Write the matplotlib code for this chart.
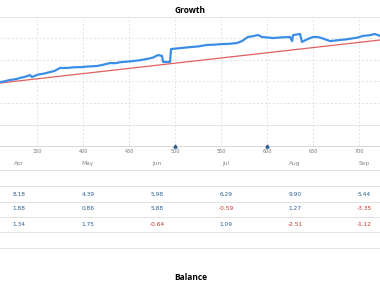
import matplotlib
matplotlib.use('Agg')
from matplotlib import pyplot as plt

# Growth curve (trade number vs growth %)
trades = [309.8, 315.0, 320.7, 327.0, 333.0, 338.0, 342.4, 344.6, 348.0, 352.0, 358.0,
          364.1, 369.0, 375.0, 382.6, 390.0, 398.0, 406.0, 415.2, 422.0, 429.3,
          435.0, 441.0, 447.0, 454.3, 462.0, 469.6, 476.0, 481.5, 485.9, 487.0,
          494.6, 495.7, 505.0, 516.3, 525.0, 534.8, 542.0, 550.0, 558.0, 567.4,
          572.8, 579.3, 585.0, 590.2, 594.6, 600.0, 606.5, 615.0, 625.0, 627.2,
          628.3, 635.9, 638.0, 644.0, 650.0, 655.4, 662.0, 668.5, 679.3, 686.0,
          692.0, 698.0, 704.3, 711.0, 717.4, 722.8]
growth = [297, 301, 307, 311, 318, 323, 330, 321, 327, 333, 337,
          344, 349, 363, 363, 366, 367, 370, 372, 378, 386,
          385, 390, 392, 395, 399, 405, 411, 423, 419, 391,
          391, 451, 455, 460, 463, 470, 471, 474, 475, 479,
          488, 507, 511, 516, 507, 505, 502, 505, 507, 488,
          516, 521, 484, 497, 507, 507, 498, 488, 493, 496,
          500, 504, 512, 515, 521, 512]

# Trend line
trend_x = [309.8, 722.8]
trend_y = [293, 493]

# Deposit markers
markers_x = [500, 600]

x_ticks = [350, 400, 450, 500, 550, 600, 650, 700]
months = ['Apr', 'May', 'Jun', 'Jul', 'Aug', 'Sep']
row1 = [8.18, 4.39, 5.98, 6.29, 9.90, 5.44]
row2 = [1.88, 0.86, 5.88, -0.59, 1.27, -3.35]
row3 = [1.34, 1.75, -0.64, 1.09, -2.51, -1.12]

W, H = 380, 282
fig = plt.figure(figsize=(3.8, 2.82), dpi=100)

# Growth chart
ax = fig.add_axes([0, (H - 146) / H, 1, 129 / H])
ax.plot(trades, growth, color='#3a8ee6', lw=1.6, zorder=3)
ax.plot(trend_x, trend_y, color='#e06060', lw=0.9, zorder=2)
ax.plot(markers_x, [0, 0], ls='none', marker='^', ms=2.2, color='#2a5d8f',
        clip_on=False, zorder=4)
ax.set_xlim(309.8, 722.8)
ax.set_ylim(0, 600)
ax.set_xticks(x_ticks)
ax.set_yticks([])
for v in [200, 300, 400, 500]:
    ax.axhline(v, color='#e2e2e2', lw=0.7, ls=(0, (2, 2)), zorder=1)
ax.axhline(100, color='#e4e4e4', lw=0.7, zorder=1)
for t in x_ticks:
    ax.axvline(t, color='#e2e2e2', lw=0.7, ls=(0, (2, 2)), zorder=1)
for s in ['left', 'right']:
    ax.spines[s].set_visible(False)
ax.spines['top'].set_color('#e4e4e4')
ax.spines['bottom'].set_color('#d8d8d8')
ax.spines['top'].set_linewidth(0.7)
ax.spines['bottom'].set_linewidth(0.7)
ax.tick_params(axis='x', length=0, pad=2.5, labelsize=3.5, labelcolor='#777777')
ax.set_title('Growth', fontsize=6, fontweight='bold', family='Open Sans', pad=3)

# Overlay for table (pixel coordinates)
ov = fig.add_axes([0, 0, 1, 1])
ov.set_xlim(0, W)
ov.set_ylim(H, 0)
ov.axis('off')

col_x = [19 + 69 * i for i in range(len(months))]
for x, m in zip(col_x, months):
    ov.text(x, 164, m, ha='center', va='center', fontsize=4.2, color='#888888')

for y in [170, 186, 202, 217, 232, 248]:
    ov.plot([0, W], [y, y], color='#e2e2e2', lw=0.7)

for y, row in zip([194, 209, 225], [row1, row2, row3]):
    for x, v in zip(col_x, row):
        ov.text(x, y, f'{v:.2f}', ha='center', va='center', fontsize=4.2,
                color='#2b6193' if v >= 0 else '#c0392b')

ov.text(191, 273, 'Balance', ha='center', va='top', fontsize=6,
        fontweight='bold', family='Open Sans')

fig.savefig('out.png', dpi=100)
